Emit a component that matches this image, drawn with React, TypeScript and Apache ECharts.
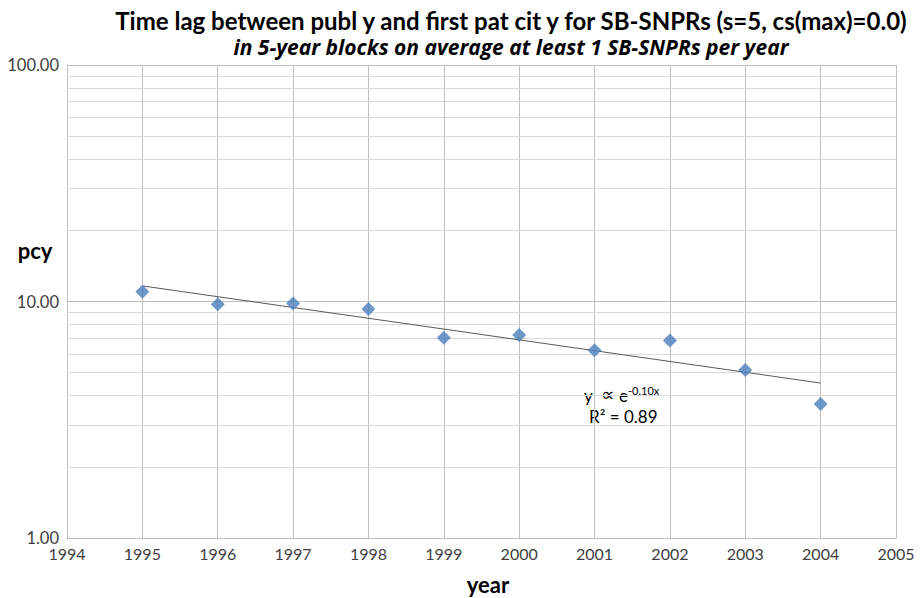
import React, { useEffect, useRef } from "react";
import * as echarts from "echarts";

const years = [1995, 1996, 1997, 1998, 1999, 2000, 2001, 2002, 2003, 2004];
const pcyValues = [11.0, 9.74, 9.81, 9.3, 7.02, 7.21, 6.22, 6.84, 5.13, 3.69];
const trendYears = [1995, 2004];
const trendValues = [11.64, 4.52];
const minorGridValues = [2, 3, 4, 5, 6, 7, 8, 9, 20, 30, 40, 50, 60, 70, 80, 90];

const titleText = "Time lag between publ y and first pat cit y for SB-SNPRs (s=5, cs(max)=0.0)";
const subtitleText = "in 5-year blocks on average at least 1 SB-SNPRs per year";
const FONT = "Lato, 'Open Sans', sans-serif";

export default function App() {
  const ref = useRef<HTMLDivElement>(null);
  useEffect(() => {
    if (!ref.current) return;
    const chart = echarts.init(ref.current, null, { renderer: "svg" });
    chart.setOption({
      animation: false,
      backgroundColor: "#ffffff",
      textStyle: { fontFamily: FONT },
      grid: { left: 67, right: 25, top: 65, bottom: 60, containLabel: false },
      xAxis: {
        type: "value",
        min: 1994,
        max: 2005,
        interval: 1,
        axisLine: { show: true, lineStyle: { color: "#bfbfbf", width: 1 } },
        axisTick: { show: false },
        axisLabel: {
          formatter: (v: number) => String(v),
          color: "#404040",
          fontSize: 16,
          fontFamily: FONT,
          margin: 7,
        },
        splitLine: { show: true, lineStyle: { color: "#bfbfbf", width: 1 } },
      },
      yAxis: {
        type: "log",
        logBase: 10,
        min: 1,
        max: 100,
        axisLine: { show: true, lineStyle: { color: "#bfbfbf", width: 1 } },
        axisTick: { show: false },
        axisLabel: {
          formatter: (v: number) => v.toFixed(2),
          color: "#404040",
          fontSize: 16.5,
          fontFamily: FONT,
          margin: 8,
        },
        splitLine: { show: true, lineStyle: { color: "#bfbfbf", width: 1 } },
      },
      series: [
        {
          type: "line",
          data: trendYears.map((y, i) => [y, trendValues[i]]),
          symbol: "none",
          lineStyle: { color: "#595959", width: 1 },
          z: 3,
          silent: true,
          markLine: {
            silent: true,
            symbol: "none",
            label: { show: false },
            lineStyle: { color: "#d9d9d9", width: 1, type: "solid" },
            data: minorGridValues.map((v) => ({ yAxis: v })),
            z: 1,
          },
        },
        {
          type: "scatter",
          data: years.map((y, i) => [y, pcyValues[i]]),
          symbol: "diamond",
          symbolSize: 14,
          itemStyle: { color: "#4a7ebb" },
          z: 4,
        },
      ],
      graphic: [
        {
          type: "text",
          x: 511,
          y: 20,
          style: {
            text: titleText,
            fontFamily: FONT,
            fontWeight: "bold",
            fontSize: 24,
            fill: "#000000",
            align: "center",
            verticalAlign: "middle",
          },
        },
        {
          type: "text",
          x: 511,
          y: 47,
          style: {
            text: subtitleText,
            fontFamily: "'Open Sans', sans-serif",
            fontWeight: "bold",
            fontStyle: "italic",
            fontSize: 21,
            fill: "#000000",
            align: "center",
            verticalAlign: "middle",
          },
        },
        {
          type: "text",
          x: 35,
          y: 250,
          style: {
            text: "pcy",
            fontFamily: FONT,
            fontWeight: "bold",
            fontSize: 22,
            fill: "#000000",
            align: "center",
            verticalAlign: "middle",
          },
        },
        {
          type: "text",
          x: 488,
          y: 584,
          style: {
            text: "year",
            fontFamily: FONT,
            fontWeight: "bold",
            fontSize: 22,
            fill: "#000000",
            align: "center",
            verticalAlign: "middle",
          },
        },
        {
          type: "text",
          x: 584,
          y: 394,
          style: {
            text: "{a|y }{p|\u221D}{a| e}{s|-0.10x}",
            fontFamily: FONT,
            fill: "#000000",
            verticalAlign: "middle",
            rich: {
              a: { fontSize: 17, fontFamily: FONT, fill: "#000000", verticalAlign: "bottom" },
              p: { fontSize: 19, fontFamily: "'DejaVu Sans', sans-serif", fill: "#000000", verticalAlign: "bottom", padding: [0, 0, 0, 4] },
              s: { fontSize: 11, fontFamily: FONT, fill: "#000000", verticalAlign: "top", padding: [0, 0, 8, 0] },
            },
          },
        },
        {
          type: "text",
          x: 589,
          y: 416,
          style: {
            text: "R\u00B2 = 0.89",
            fontFamily: FONT,
            fontSize: 17,
            fill: "#000000",
            verticalAlign: "middle",
          },
        },
      ],
    });
    return () => chart.dispose();
  }, []);
  return (
    <div
      ref={ref}
      style={{ position: "fixed", left: 0, top: 0, width: 921, height: 598, background: "#fff" }}
    />
  );
}
